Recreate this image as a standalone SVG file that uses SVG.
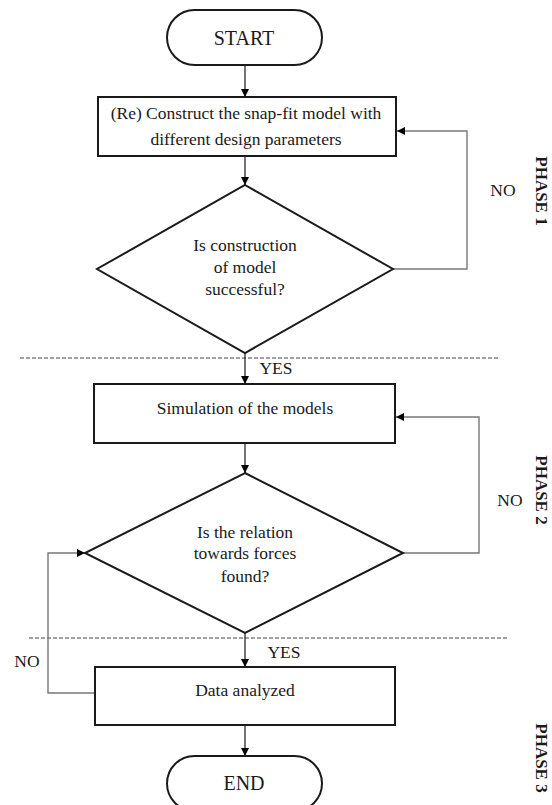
<svg xmlns="http://www.w3.org/2000/svg" width="552" height="805" viewBox="0 0 552 805">
<defs>
<style>
.shape{fill:#fff;stroke:#1a1a1a;stroke-width:2}
.t{font-family:"Liberation Serif","Times New Roman",serif;font-size:17.5px;fill:#1a1a1a;text-anchor:middle;dominant-baseline:central}
.big{font-size:20px}
.ph{font-weight:bold;font-size:17px;dominant-baseline:alphabetic}
.ln{fill:none;stroke:#1a1a1a;stroke-width:1.2}
.lg{fill:none;stroke:#777;stroke-width:1.4}
.dash{fill:none;stroke:#444;stroke-width:1.2;stroke-dasharray:4 2}
</style>
<marker id="ah" viewBox="0 0 10 10" refX="10" refY="5" markerWidth="8" markerHeight="8" markerUnits="userSpaceOnUse" orient="auto">
<path d="M0,0 L10,5 L0,10 z" fill="#000"/>
</marker>
</defs>
<rect width="552" height="805" fill="#fff"/>
<g id="dividers">
<line class="dash" x1="20" y1="358" x2="500" y2="358"/>
<line class="dash" x1="29" y1="638" x2="508" y2="638"/>
</g>
<g id="connectors">
<line class="ln" x1="245" y1="65" x2="245" y2="97" marker-end="url(#ah)"/>
<line class="ln" x1="245" y1="156" x2="245" y2="185" marker-end="url(#ah)"/>
<polyline class="lg" points="393,269 467,269 467,131 397,131" marker-end="url(#ah)"/>
<line class="ln" x1="245" y1="353" x2="245" y2="384" marker-end="url(#ah)"/>
<line class="ln" x1="245" y1="443" x2="245" y2="473" marker-end="url(#ah)"/>
<polyline class="lg" points="403,553 479,553 479,417 396,417" marker-end="url(#ah)"/>
<line class="ln" x1="245" y1="633" x2="245" y2="667" marker-end="url(#ah)"/>
<polyline class="lg" points="95,693 48,693 48,553 85,553" marker-end="url(#ah)"/>
<line class="ln" x1="245" y1="725" x2="245" y2="756" marker-end="url(#ah)"/>
<text class="t" x="503" y="190">NO</text>
<text class="t" x="276" y="368">YES</text>
<text class="t" x="510" y="500">NO</text>
<text class="t" x="284" y="652">YES</text>
<text class="t" x="27" y="661">NO</text>
</g>
<g id="start">
<rect class="shape" x="167" y="10" width="155" height="55" rx="27.5"/>
<text class="t big" x="244" y="38">START</text>
</g>
<g id="construct">
<rect class="shape" x="98" y="97" width="298" height="59"/>
<text class="t" x="246" y="113">(Re) Construct the snap-fit model with</text>
<text class="t" x="246" y="139">different design parameters</text>
</g>
<g id="decision1">
<polygon class="shape" points="245,185 393,269 245,353 97,269"/>
<text class="t" x="245" y="245">Is construction</text>
<text class="t" x="245" y="267">of model</text>
<text class="t" x="245" y="289">successful?</text>
</g>
<g id="simulation">
<rect class="shape" x="94" y="384" width="301" height="59"/>
<text class="t" x="245" y="408">Simulation of the models</text>
</g>
<g id="decision2">
<polygon class="shape" points="245,473 403,553 245,633 85,553"/>
<text class="t" x="245" y="532">Is the relation</text>
<text class="t" x="245" y="553">towards forces</text>
<text class="t" x="245" y="576">found?</text>
</g>
<g id="data">
<rect class="shape" x="95" y="667" width="300" height="58"/>
<text class="t" x="245" y="690">Data analyzed</text>
</g>
<g id="end">
<rect class="shape" x="167" y="756" width="155" height="55" rx="27.5"/>
<text class="t big" x="244" y="783">END</text>
</g>
<g id="phases">
<text class="t ph" transform="translate(536,191) rotate(90)">PHASE 1</text>
<text class="t ph" transform="translate(536,490) rotate(90)">PHASE 2</text>
<text class="t ph" transform="translate(536,758) rotate(90)">PHASE 3</text>
</g>
</svg>
